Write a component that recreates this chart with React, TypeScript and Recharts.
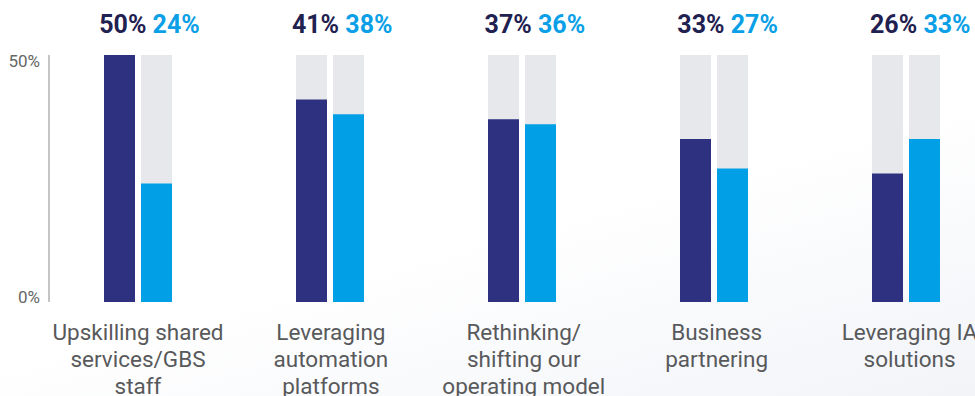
import React from 'react';
import { BarChart, Bar, XAxis, YAxis } from 'recharts';

const categories = [
  'Upskilling shared\nservices/GBS\nstaff',
  'Leveraging\nautomation\nplatforms',
  'Rethinking/\nshifting our\noperating model',
  'Business\npartnering',
  'Leveraging IA\nsolutions',
];
const seriesA = [50, 41, 37, 33, 26];
const seriesB = [24, 38, 36, 27, 33];
const yTicks = [0, 50];

const data = categories.map((c, i) => ({ category: c, a: seriesA[i], b: seriesB[i] }));

const DARK = '#2e3180';
const BLUE = '#009fe6';
const DARK_TEXT = '#1f2150';
const BLUE_TEXT = '#0a9fe6';
const GRID_BG = '#e7e8ec';
const FONT = 'Roboto, sans-serif';

const BottomTick = (props: any) => {
  const { x, y, payload, index } = props;
  const lines = String(payload.value).split('\n');
  const cx = x + index * 0.9;
  return (
    <text x={cx} y={y} textAnchor="middle" fill="#58595b" fontSize={22.5} style={{ fontFamily: FONT }}>
      {lines.map((l, i) => (
        <tspan key={i} x={cx} dy={i === 0 ? 38 : 27}>{l}</tspan>
      ))}
    </text>
  );
};

const TopTick = (props: any) => {
  const { x, y, index } = props;
  return (
    <text x={x + 11.5 + index * 0.7} y={y - 22} textAnchor="middle" fontSize={25} fontWeight={700} style={{ fontFamily: FONT }}>
      <tspan fill={DARK_TEXT}>{seriesA[index]}%</tspan>
      <tspan fill={BLUE_TEXT}> {seriesB[index]}%</tspan>
    </text>
  );
};

const YTick = (props: any) => {
  const { x, y, payload } = props;
  return (
    <text x={x} y={y} dy={payload.value === 50 ? 6 : -5} textAnchor="end" dominantBaseline="central"
      fill="#666" fontSize={17} style={{ fontFamily: FONT }}>
      {payload.value}%
    </text>
  );
};

export default function App() {
  return (
    <div style={{
      position: 'absolute', left: 0, top: 0, width: 975, height: 396, overflow: 'hidden', fontFamily: FONT,
      background: 'linear-gradient(165deg, #ffffff 55%, #f2f4f8 100%)',
    }}>
      <BarChart width={1010} height={396} data={data} margin={{ top: 0, right: 0, bottom: 0, left: 0 }}
        barSize={31} barGap={6}>
        <XAxis xAxisId="bottom" dataKey="category" axisLine={false} tickLine={false} tickSize={0} tickMargin={0}
          interval={0} height={94} padding={{ left: -7, right: 8 }} tick={<BottomTick />} />
        <XAxis xAxisId="top" orientation="top" dataKey="category" axisLine={false} tickLine={false} tickSize={0}
          tickMargin={0} interval={0} height={55} padding={{ left: -7, right: 8 }} tick={<TopTick />} />
        <YAxis domain={[0, 50]} ticks={yTicks} width={49} tickSize={0} tickMargin={9} tickLine={false}
          axisLine={{ stroke: '#8a8a8a', strokeWidth: 1 }} tick={<YTick />} />
        <Bar xAxisId="bottom" dataKey="a" fill={DARK} background={{ fill: GRID_BG }} isAnimationActive={false} />
        <Bar xAxisId="bottom" dataKey="b" fill={BLUE} background={{ fill: GRID_BG }} isAnimationActive={false} />
      </BarChart>
    </div>
  );
}
